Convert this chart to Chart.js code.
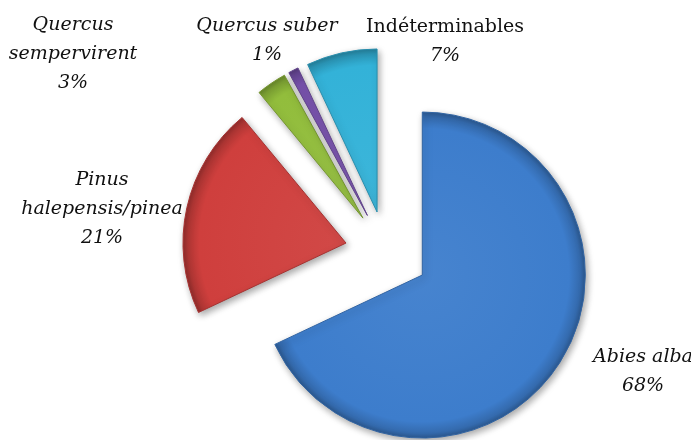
<!DOCTYPE html>
<html>
<head>
<meta charset="utf-8">
<script src="https://cdn.jsdelivr.net/npm/chart.js@4.4.1/dist/chart.umd.min.js"></script>
<style>
  html, body { margin: 0; padding: 0; background: #ffffff; }
  #wrap { width: 691px; height: 440px; }
</style>
</head>
<body>
<div id="wrap"><canvas id="pieChart" width="691" height="440"></canvas></div>
<script>
// data (clockwise from 12 o'clock)
const species = ["Abies alba", "Pinus halepensis/pinea", "Quercus sempervirent", "Quercus suber", "Indéterminables"];
const shares = [68, 21, 3, 1, 7];
const labelLines = [["Abies alba"], ["Pinus", "halepensis/pinea"], ["Quercus", "sempervirent"], ["Quercus suber"], ["Indéterminables"]];

// styling
const sliceColors = ["#3d7dcc", "#cf3f3d", "#92bd3c", "#7852ad", "#33b2d8"];
const explode = [43, 41, 41, 41, 41];
const labelAnchors = [[643, 362], [102, 185], [73, 30], [267, 31], [445, 32]];
const labelItalic = [true, true, true, true, false];
const pieRadius = 163;

function shade(hex, f) {
    const n = parseInt(hex.slice(1), 16);
    const ch = [(n >> 16) & 255, (n >> 8) & 255, n & 255].map((c) =>
        Math.round(f < 0 ? c * (1 + f) : c + (255 - c) * f)
    );
    return `rgb(${ch[0]}, ${ch[1]}, ${ch[2]})`;
}

// centre of an exploded slice, worked out from the data
function sliceCenter(chart, i) {
    const area = chart.chartArea;
    const total = shares.reduce((a, b) => a + b, 0);
    const before = shares.slice(0, i).reduce((a, b) => a + b, 0);
    const mid = -Math.PI / 2 + (2 * Math.PI * (before + shares[i] / 2)) / total;
    const cx = (area.left + area.right) / 2;
    const cy = (area.top + area.bottom) / 2;
    return { x: cx + Math.cos(mid) * explode[i], y: cy + Math.sin(mid) * explode[i] };
}

// move each arc out along its mid angle (keeps radius and angle untouched)
const explodePlugin = {
    id: "explode",
    afterDatasetUpdate(chart) {
        const meta = chart.getDatasetMeta(0);
        meta.data.forEach((arc, i) => {
            const c = sliceCenter(chart, i);
            arc.x = c.x;
            arc.y = c.y;
        });
    },
};

const shadowPlugin = {
    id: "softShadow",
    beforeDatasetsDraw(chart) {
        const c = chart.ctx;
        c.save();
        c.shadowColor = "rgba(0, 0, 0, 0.35)";
        c.shadowBlur = 7;
        c.shadowOffsetX = 2;
        c.shadowOffsetY = 3;
    },
    afterDatasetsDraw(chart) {
        chart.ctx.restore();
    },
};

const labelPlugin = {
    id: "sliceLabels",
    afterDraw(chart) {
        const c = chart.ctx;
        c.save();
        c.fillStyle = "#111111";
        c.textAlign = "center";
        c.textBaseline = "alphabetic";
        labelLines.forEach((lines, i) => {
            const all = lines.concat([shares[i] + "%"]);
            const [x, y] = labelAnchors[i];
            all.forEach((txt, k) => {
                const italic = labelItalic[i] || k === all.length - 1;
                c.font = `${italic ? "italic " : ""}19px "DejaVu Serif"`;
                c.fillText(txt, x, y + k * 29);
            });
        });
        c.restore();
    },
};

const ctx = document.getElementById("pieChart").getContext("2d");

new Chart(ctx, {
    type: "pie",
    data: {
        labels: species,
        datasets: [
            {
                data: shares,
                backgroundColor: (context) => {
                    const chart = context.chart;
                    const i = context.dataIndex;
                    if (!chart.chartArea) return sliceColors[i];
                    const c = sliceCenter(chart, i);
                    const g = chart.ctx.createRadialGradient(c.x, c.y, 0, c.x, c.y, pieRadius);
                    g.addColorStop(0, shade(sliceColors[i], 0.05));
                    g.addColorStop(0.9, sliceColors[i]);
                    g.addColorStop(0.97, shade(sliceColors[i], -0.15));
                    g.addColorStop(1, shade(sliceColors[i], -0.3));
                    return g;
                },
                borderColor: sliceColors.map((col) => shade(col, -0.2)),
                borderWidth: 1,
                borderJoinStyle: "round",
                clip: false,
            },
        ],
    },
    options: {
        responsive: false,
        devicePixelRatio: 1,
        animation: false,
        radius: pieRadius,
        layout: { padding: { left: 81, right: 0, top: 64, bottom: 0 } },
        plugins: {
            legend: { display: false },
            tooltip: { enabled: false },
        },
        events: [],
    },
    plugins: [explodePlugin, shadowPlugin, labelPlugin],
});
</script>
</body>
</html>
